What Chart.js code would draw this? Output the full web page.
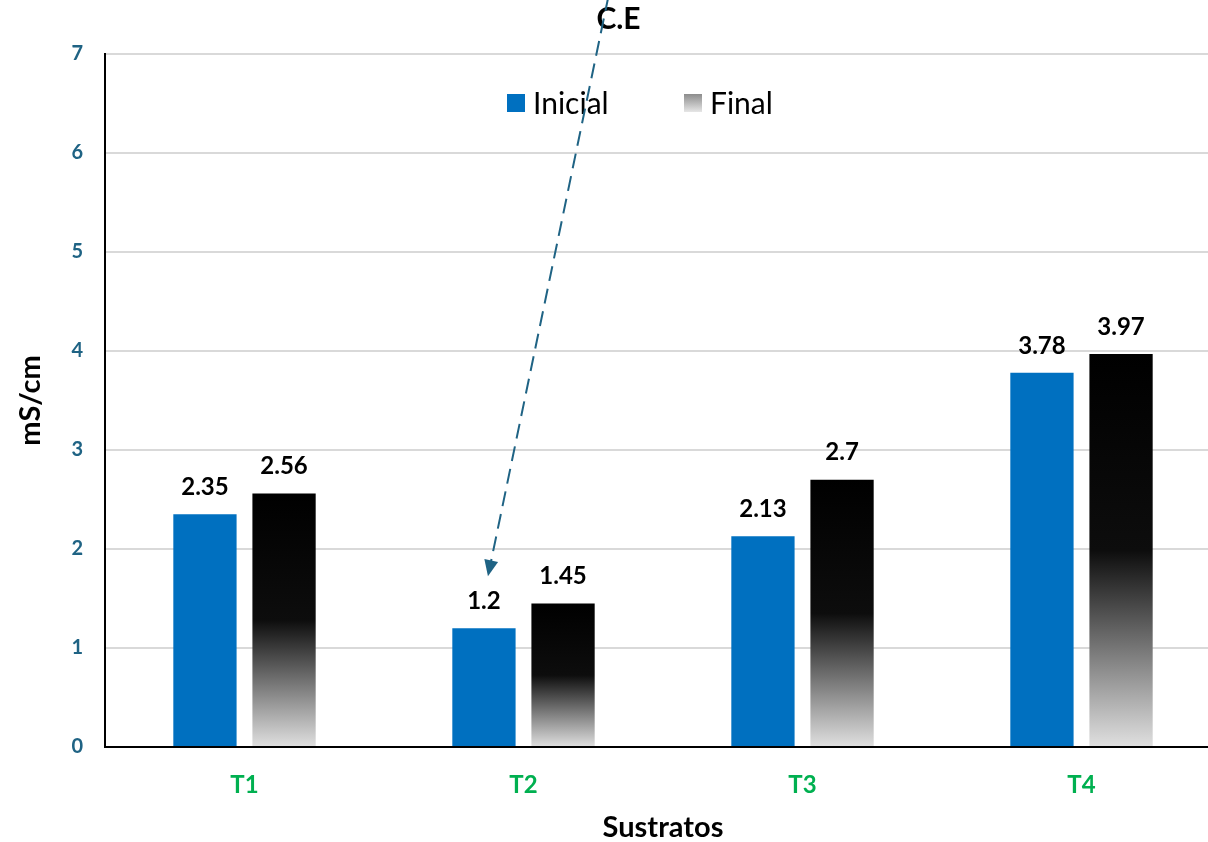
<!DOCTYPE html>
<html>
<head>
<meta charset="utf-8">
<script src="https://cdn.jsdelivr.net/npm/chart.js@4"></script>
<style>
  body { margin: 0; background: #fff; overflow: hidden; }
  #wrap { width: 1221px; height: 842px; }
</style>
</head>
<body>
<div id="wrap"><canvas id="ceChart"></canvas></div>
<script>
var categories = ['T1', 'T2', 'T3', 'T4'];
var inicial = [2.35, 1.2, 2.13, 3.78];
var final = [2.56, 1.45, 2.7, 3.97];
var yTicks = [0, 1, 2, 3, 4, 5, 6, 7];

var FONT = 'Lato, "Open Sans", sans-serif';

function finalGradient(c) {
    var chart = c.chart;
    if (!chart.chartArea || c.type !== 'data') return '#000';
    var y = chart.scales.y;
    var top = y.getPixelForValue(c.raw), bot = y.getPixelForValue(0);
    var g = chart.ctx.createLinearGradient(0, top, 0, bot);
    g.addColorStop(0, '#000000');
    g.addColorStop(0.5, '#0d0d0d');
    g.addColorStop(1, '#e0e0e0');
    return g;
}

// value labels above bars
var valueLabels = {
    id: 'valueLabels',
    afterDatasetsDraw: function (chart) {
        var ctx = chart.ctx;
        ctx.save();
        ctx.font = 'bold 24px ' + FONT;
        ctx.fillStyle = '#000';
        ctx.textAlign = 'center';
        ctx.textBaseline = 'middle';
        chart.data.datasets.forEach(function (ds, i) {
            chart.getDatasetMeta(i).data.forEach(function (bar, j) {
                ctx.fillText(String(ds.data[j]), bar.x, bar.y - 27);
            });
        });
        ctx.restore();
    }
};

// legend drawn inside plot area
var innerLegend = {
    id: 'innerLegend',
    afterDraw: function (chart) {
        var ctx = chart.ctx, a = chart.chartArea;
        var y = a.top + 49;
        var xs = [a.left + 402, a.left + 579];
        ctx.save();
        ctx.font = '30px ' + FONT;
        ctx.textBaseline = 'middle';
        chart.data.datasets.forEach(function (ds, i) {
            var x = xs[i];
            if (i === 0) {
                ctx.fillStyle = '#0070c0';
            } else {
                var g = ctx.createLinearGradient(0, y - 9, 0, y + 9);
                g.addColorStop(0, '#8c8c8c');
                g.addColorStop(1, '#e6e6e6');
                ctx.fillStyle = g;
            }
            ctx.fillRect(x, y - 9, 18, 18);
            ctx.fillStyle = '#000';
            ctx.fillText(ds.label, x + 26, y + 1);
        });
        ctx.restore();
    }
};

// dashed arrow from the title down to T2 Inicial
var ceArrow = {
    id: 'ceArrow',
    afterDraw: function (chart) {
        var ctx = chart.ctx;
        var bar = chart.getDatasetMeta(0).data[1];
        var x0 = chart.width / 2 - 2, y0 = -4;
        var x1 = bar.x + 4, y1 = bar.y - 52;
        var ang = Math.atan2(y1 - y0, x1 - x0);
        ctx.save();
        ctx.strokeStyle = '#1f6384';
        ctx.fillStyle = '#1f6384';
        ctx.lineWidth = 2;
        ctx.setLineDash([15, 8]);
        ctx.beginPath();
        ctx.moveTo(x0, y0);
        ctx.lineTo(x1 - 10 * Math.cos(ang), y1 - 10 * Math.sin(ang));
        ctx.stroke();
        ctx.setLineDash([]);
        ctx.beginPath();
        ctx.moveTo(x1, y1);
        ctx.lineTo(x1 - 16 * Math.cos(ang) + 7 * Math.sin(ang), y1 - 16 * Math.sin(ang) - 7 * Math.cos(ang));
        ctx.lineTo(x1 - 16 * Math.cos(ang) - 7 * Math.sin(ang), y1 - 16 * Math.sin(ang) + 7 * Math.cos(ang));
        ctx.closePath();
        ctx.fill();
        ctx.restore();
    }
};

var ctx = document.getElementById('ceChart').getContext('2d');
var myChart = new Chart(ctx, {
    type: 'bar',
    data: {
        labels: categories,
        datasets: [
            {
                label: 'Inicial',
                data: inicial,
                backgroundColor: '#0070c0',
                categoryPercentage: 0.567,
                barPercentage: 0.8
            },
            {
                label: 'Final',
                data: final,
                backgroundColor: finalGradient,
                categoryPercentage: 0.567,
                barPercentage: 0.8
            }
        ]
    },
    options: {
        responsive: true,
        maintainAspectRatio: false,
        animation: false,
        layout: { padding: { left: 16, right: 0, top: 0, bottom: 0 } },
        plugins: {
            legend: { display: false },
            tooltip: { enabled: false },
            title: {
                display: true,
                text: 'C.E',
                color: '#000',
                font: { family: FONT, size: 30, weight: 'bold', lineHeight: 1.2 },
                padding: { top: 1, bottom: 17 }
            }
        },
        scales: {
            x: {
                afterFit: function (scale) { scale.height = 95; },
                grid: { display: false },
                border: { color: '#000', width: 2 },
                ticks: {
                    color: '#00b050',
                    font: { family: FONT, size: 24, weight: 'bold' },
                    padding: 16
                },
                title: {
                    display: true,
                    text: 'Sustratos',
                    color: '#000',
                    font: { family: FONT, size: 29, weight: 'bold', lineHeight: 1 },
                    padding: { top: 0, bottom: 0 }
                }
            },
            y: {
                min: 0,
                max: 7,
                afterFit: function (scale) { scale.width = 89; },
                afterBuildTicks: function (axis) {
                    axis.ticks = yTicks.map(function (v) { return { value: v }; });
                },
                grid: { color: '#d9d9d9', lineWidth: 2, drawTicks: false },
                border: { color: '#000', width: 2 },
                ticks: {
                    color: '#1f6384',
                    font: { family: FONT, size: 20, weight: 'bold' },
                    padding: 22
                },
                title: {
                    display: true,
                    text: 'mS/cm',
                    color: '#000',
                    font: { family: FONT, size: 29, weight: 'bold', lineHeight: 1 },
                    padding: { top: 0, bottom: 0 }
                }
            }
        }
    },
    plugins: [valueLabels, innerLegend, ceArrow]
});
</script>
</body>
</html>
